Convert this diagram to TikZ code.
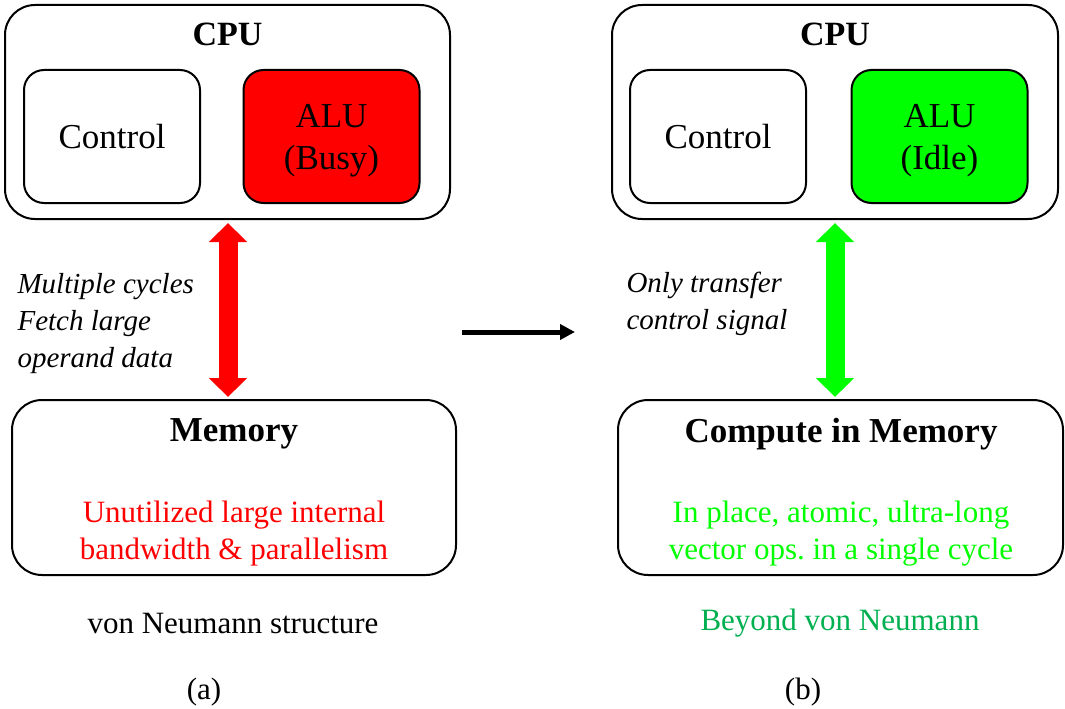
\documentclass[tikz,border=0pt]{standalone}
\usepackage{fontspec}
\setmainfont{Liberation Serif}
\usetikzlibrary{arrows.meta}
\definecolor{busyred}{RGB}{255,0,0}
\definecolor{idlegreen}{RGB}{0,255,0}
\definecolor{darkgreen}{RGB}{0,176,80}
\frenchspacing
\tikzset{
  outerbox/.style={draw, line width=2pt, rounded corners=30pt, inner sep=0pt},
  unitbox/.style={draw, line width=2pt, rounded corners=20pt, inner sep=0pt,
    minimum width=176pt, minimum height=133pt, align=center,
    font=\fontsize{35}{42}\selectfont},
  heading/.style={font=\fontsize{35}{40}\selectfont\bfseries},
  bodytext/.style={align=center, font=\fontsize{31}{37}\selectfont},
  note/.style={align=left, anchor=west, font=\fontsize{29}{37}\selectfont\itshape},
  bigarrow/.style={line width=19pt, {Triangle[length=19pt,width=37pt]}-{Triangle[length=19pt,width=37pt]}},
}
\begin{document}
\begin{tikzpicture}[x=1pt,y=-1pt]
\useasboundingbox (0,0) rectangle (1065,709);

% ---------- (a) von Neumann structure ----------
\node[outerbox, minimum width=445pt, minimum height=214pt] (cpuA) at (227.5,112) {};
\node[heading, font=\fontsize{34}{40}\selectfont\bfseries] (cpuAt) at (227.5,34) {CPU};
\node[unitbox] (ctrlA) at (112,136.5) {Control};
\node[unitbox, fill=busyred] (aluA) at (331.5,136.5) {};
\node[align=center, font=\fontsize{35}{42}\selectfont] (aluAt) at (331.5,140.5) {ALU\\(Busy)};

\node[outerbox, minimum width=444pt, minimum height=175pt] (memA) at (234,487.5) {};
\node[heading] (memAt) at (234,434) {Memory};
\node[bodytext, text=busyred] (memAd) at (234,534) {Unutilized large internal\\bandwidth \& parallelism};

\draw[bigarrow, busyred, shorten <=3pt, shorten >=2pt] (cpuA.south -| 228,0) -- (memA.north -| 228,0);

\node[note] (busA) at (14,324) {Multiple cycles\\Fetch large\\operand data};

\node[bodytext] (capA) at (233,623) {von Neumann structure};
\node[bodytext] (subA) at (204,692) {(a)};

% ---------- transition ----------
\coordinate (m1) at (462,332);
\coordinate (m2) at (575,332);
\draw[line width=5pt, -{Triangle[length=15pt,width=15pt]}] (m1) -- (m2);

% ---------- (b) beyond von Neumann ----------
\node[outerbox, minimum width=446pt, minimum height=214pt] (cpuB) at (835,112) {};
\node[heading, font=\fontsize{34}{40}\selectfont\bfseries] (cpuBt) at (835,34) {CPU};
\node[unitbox] (ctrlB) at (718,136.5) {Control};
\node[unitbox, fill=idlegreen] (aluB) at (939.5,136.5) {};
\node[align=center, font=\fontsize{35}{42}\selectfont] (aluBt) at (939.5,140.5) {ALU\\(Idle)};

\node[outerbox, minimum width=445pt, minimum height=175pt] (cim) at (840.5,487.5) {};
\node[heading] (cimt) at (841,434) {Compute in Memory};
\node[bodytext, text=idlegreen] (cimd) at (841,534) {In place, atomic, ultra-long\\vector ops. in a single cycle};

\draw[bigarrow, idlegreen, shorten <=3pt, shorten >=2pt] (cpuB.south -| 835,0) -- (cim.north -| 835,0);

\node[note] (busB) at (623,304) {Only transfer\\control signal};

\node[bodytext, text=darkgreen] (capB) at (840,623) {Beyond von Neumann};
\node[bodytext] (subB) at (803,692) {(b)};
\end{tikzpicture}
\end{document}
